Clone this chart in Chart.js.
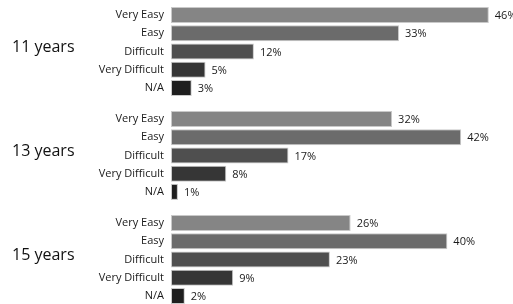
<!DOCTYPE html>
<html>
<head>
<meta charset="utf-8">
<script src="https://cdn.jsdelivr.net/npm/chart.js@4/dist/chart.umd.min.js"></script>
<style>
  html, body { margin: 0; padding: 0; background: #fff; overflow: hidden; }
  .group { position: relative; width: 513px; height: 104px; }
</style>
</head>
<body>
<div class="group"><canvas id="chart11"></canvas></div>
<div class="group"><canvas id="chart13"></canvas></div>
<div class="group"><canvas id="chart15"></canvas></div>
<script>
var answers = ['Very Easy', 'Easy', 'Difficult', 'Very Difficult', 'N/A'];
var groups = ['11 years', '13 years', '15 years'];
var values11 = [46, 33, 12, 5, 3];
var values13 = [32, 42, 17, 8, 1];
var values15 = [26, 40, 23, 9, 2];
var barColors = ['#858585', '#6b6b6b', '#4f4f4f', '#363636', '#1e1e1e'];

var labelPlugin = {
  id: 'labelPlugin',
  afterDatasetsDraw: function(chart, args, opts) {
    var ctx = chart.ctx;
    var meta = chart.getDatasetMeta(0);
    var data = chart.data.datasets[0].data;
    ctx.save();
    ctx.fillStyle = '#1a1a1a';
    ctx.font = '11px "Open Sans"';
    ctx.textBaseline = 'middle';
    ctx.textAlign = 'left';
    meta.data.forEach(function(bar, i) {
      ctx.fillText(data[i] + '%', bar.x + 6, bar.y + 1);
    });
    // group name on the left
    var area = chart.chartArea;
    ctx.font = '16px "Open Sans"';
    ctx.fillStyle = '#111';
    ctx.fillText(opts.group, 12, (area.top + area.bottom) / 2 - 4);
    ctx.restore();
  }
};

function makeChart(id, group, values) {
  var ctx = document.getElementById(id).getContext('2d');
  return new Chart(ctx, {
    type: 'bar',
    data: {
      labels: answers,
      datasets: [{
        data: values,
        backgroundColor: barColors,
        borderColor: '#c9c9c9',
        borderWidth: 1,
        borderSkipped: false,
        categoryPercentage: 1,
        barPercentage: 0.88
      }]
    },
    options: {
      indexAxis: 'y',
      responsive: true,
      maintainAspectRatio: false,
      animation: false,
      layout: { padding: { top: 6, bottom: 7, left: 0, right: 0 } },
      plugins: {
        legend: { display: false },
        tooltip: { enabled: false },
        labelPlugin: { group: group }
      },
      scales: {
        x: { display: false, min: 0, max: 49.5 },
        y: {
          grid: { display: false, drawTicks: false },
          border: { display: false },
          ticks: {
            color: '#1a1a1a',
            font: { family: 'Open Sans', size: 11 },
            padding: 7
          },
          afterFit: function(axis) {
            axis.width = 171;
            axis.paddingTop = 0;
            axis.paddingBottom = 0;
          }
        }
      }
    },
    plugins: [labelPlugin]
  });
}

makeChart('chart11', groups[0], values11);
makeChart('chart13', groups[1], values13);
makeChart('chart15', groups[2], values15);
</script>
</body>
</html>
